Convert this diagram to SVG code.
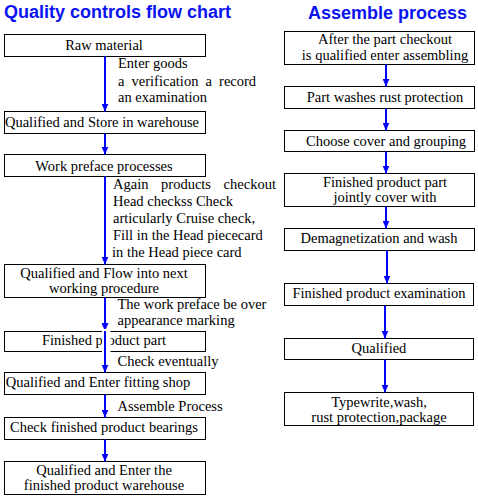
<svg xmlns="http://www.w3.org/2000/svg" width="478" height="500" viewBox="0 0 478 500">
<defs>
<marker id="ah" viewBox="0 0 8 7" refX="8" refY="3.5" markerWidth="8" markerHeight="7" markerUnits="userSpaceOnUse" orient="auto">
<path d="M0,0 L8,3.5 L0,7 z" fill="#0000ff"/>
</marker>
<style>
.title{font-weight:bold;font-size:18px;fill:#0a14f0}
.box{fill:#fff;stroke:#000;stroke-width:1}
.t{text-anchor:middle}
.c{stroke:#0000ff;stroke-width:2;fill:none;marker-end:url(#ah)}
</style>
</defs>
<rect width="478" height="500" fill="#fff"/>
<g font-family="Liberation Sans">
<text class="title" x="4" y="18">Quality controls flow chart</text>
<text class="title" x="308" y="18.5">Assemble process</text>
</g>
<g font-family="Liberation Serif" font-size="14.5" fill="#000">
<g id="L1"><rect class="box" x="4.5" y="34.5" width="201" height="22"/><text class="t" x="104" y="49.5">Raw material</text></g>
<g id="L2"><rect class="box" x="4.5" y="111.5" width="201" height="22"/><text class="t" x="102" y="126.7">Qualified and Store in warehouse</text></g>
<g id="L3"><rect class="box" x="4.5" y="154.5" width="201" height="22"/><text class="t" x="104" y="170.5">Work preface processes</text></g>
<g id="L4"><rect class="box" x="4.5" y="264.5" width="201" height="33"/><text class="t" x="104" y="277.5">Qualified and Flow into next</text><text class="t" x="104" y="292.8">working procedure</text></g>
<g id="L5"><rect class="box" x="4.5" y="331.5" width="201" height="20"/><text class="t" x="104" y="345.3">Finished product part</text></g>
<g id="L6"><rect class="box" x="4.5" y="372.5" width="201" height="22"/><text class="t" x="98" y="386.8">Qualified and Enter fitting shop</text></g>
<g id="L7"><rect class="box" x="4.5" y="417.5" width="201" height="22"/><text class="t" x="104" y="431.8">Check finished product bearings</text></g>
<g id="L8"><rect class="box" x="4.5" y="461.5" width="201" height="33"/><text class="t" x="104" y="474.5">Qualified and Enter the</text><text class="t" x="104" y="490">finished product warehouse</text></g>

<g id="R1"><rect class="box" x="284.5" y="31.5" width="190" height="33"/><text class="t" x="385" y="44.2">After the part checkout</text><text class="t" x="385" y="60">is qualified enter assembling</text></g>
<g id="R2"><rect class="box" x="284.5" y="86.5" width="190" height="22"/><text class="t" x="385" y="101.7">Part washes rust protection</text></g>
<g id="R3"><rect class="box" x="284.5" y="130.5" width="190" height="21"/><text class="t" x="386" y="145.7">Choose cover and grouping</text></g>
<g id="R4"><rect class="box" x="284.5" y="173.5" width="190" height="33"/><text class="t" x="385" y="186.7">Finished product part</text><text class="t" x="385" y="201.7">jointly cover with</text></g>
<g id="R5"><rect class="box" x="284.5" y="228.5" width="190" height="22"/><text class="t" x="379" y="243.3">Demagnetization and wash</text></g>
<g id="R6"><rect class="box" x="284.5" y="283.5" width="189" height="22"/><text class="t" x="379" y="298.3">Finished product examination</text></g>
<g id="R7"><rect class="box" x="284.5" y="338.5" width="189" height="21"/><text class="t" x="379" y="353.3">Qualified</text></g>
<g id="R8"><rect class="box" x="284.5" y="392.5" width="189" height="33"/><text class="t" x="379" y="406.7">Typewrite,wash,</text><text class="t" x="379" y="421.7">rust protection,package</text></g>

<g id="labels">
<text x="118" y="68.3">Enter goods</text>
<text x="118" y="85.7" word-spacing="3.5">a verification a record</text>
<text x="118" y="102.3">an examination</text>
<text x="113" y="189" word-spacing="9">Again products checkout</text>
<text x="113" y="206">Head checkss Check</text>
<text x="113" y="223">articularly Cruise check,</text>
<text x="113" y="240">Fill in the Head piececard</text>
<text x="112" y="257">in the Head piece card</text>
<text x="117.5" y="309.3">The work preface be over</text>
<text x="117.5" y="325.3">appearance marking</text>
<text x="117.5" y="366">Check eventually</text>
<text x="117.5" y="411">Assemble Process</text>
</g>
</g>

<g id="connectors">
<line class="c" x1="105" y1="56.5" x2="105" y2="111.5"/>
<line class="c" x1="105" y1="133.5" x2="105" y2="154.5"/>
<line class="c" x1="105" y1="176.5" x2="105" y2="264.5"/>
<line class="c" x1="105" y1="297.5" x2="105" y2="331"/>
<rect x="102" y="329" width="8.5" height="24" fill="#fff"/>
<line class="c" x1="105" y1="331" x2="105" y2="372.5"/>
<line class="c" x1="105" y1="394.5" x2="105" y2="417.5"/>
<line class="c" x1="105" y1="439.5" x2="105" y2="461.5"/>
<line class="c" x1="386" y1="64.5" x2="386" y2="86.5"/>
<line class="c" x1="386" y1="108.5" x2="386" y2="130.5"/>
<line class="c" x1="386" y1="151.5" x2="386" y2="173.5"/>
<line class="c" x1="386" y1="206.5" x2="386" y2="228.5"/>
<line class="c" x1="387" y1="250.5" x2="387" y2="283.5"/>
<line class="c" x1="385" y1="305.5" x2="385" y2="338.5"/>
<line class="c" x1="385" y1="359.5" x2="385" y2="392.5"/>
</g>
</svg>
